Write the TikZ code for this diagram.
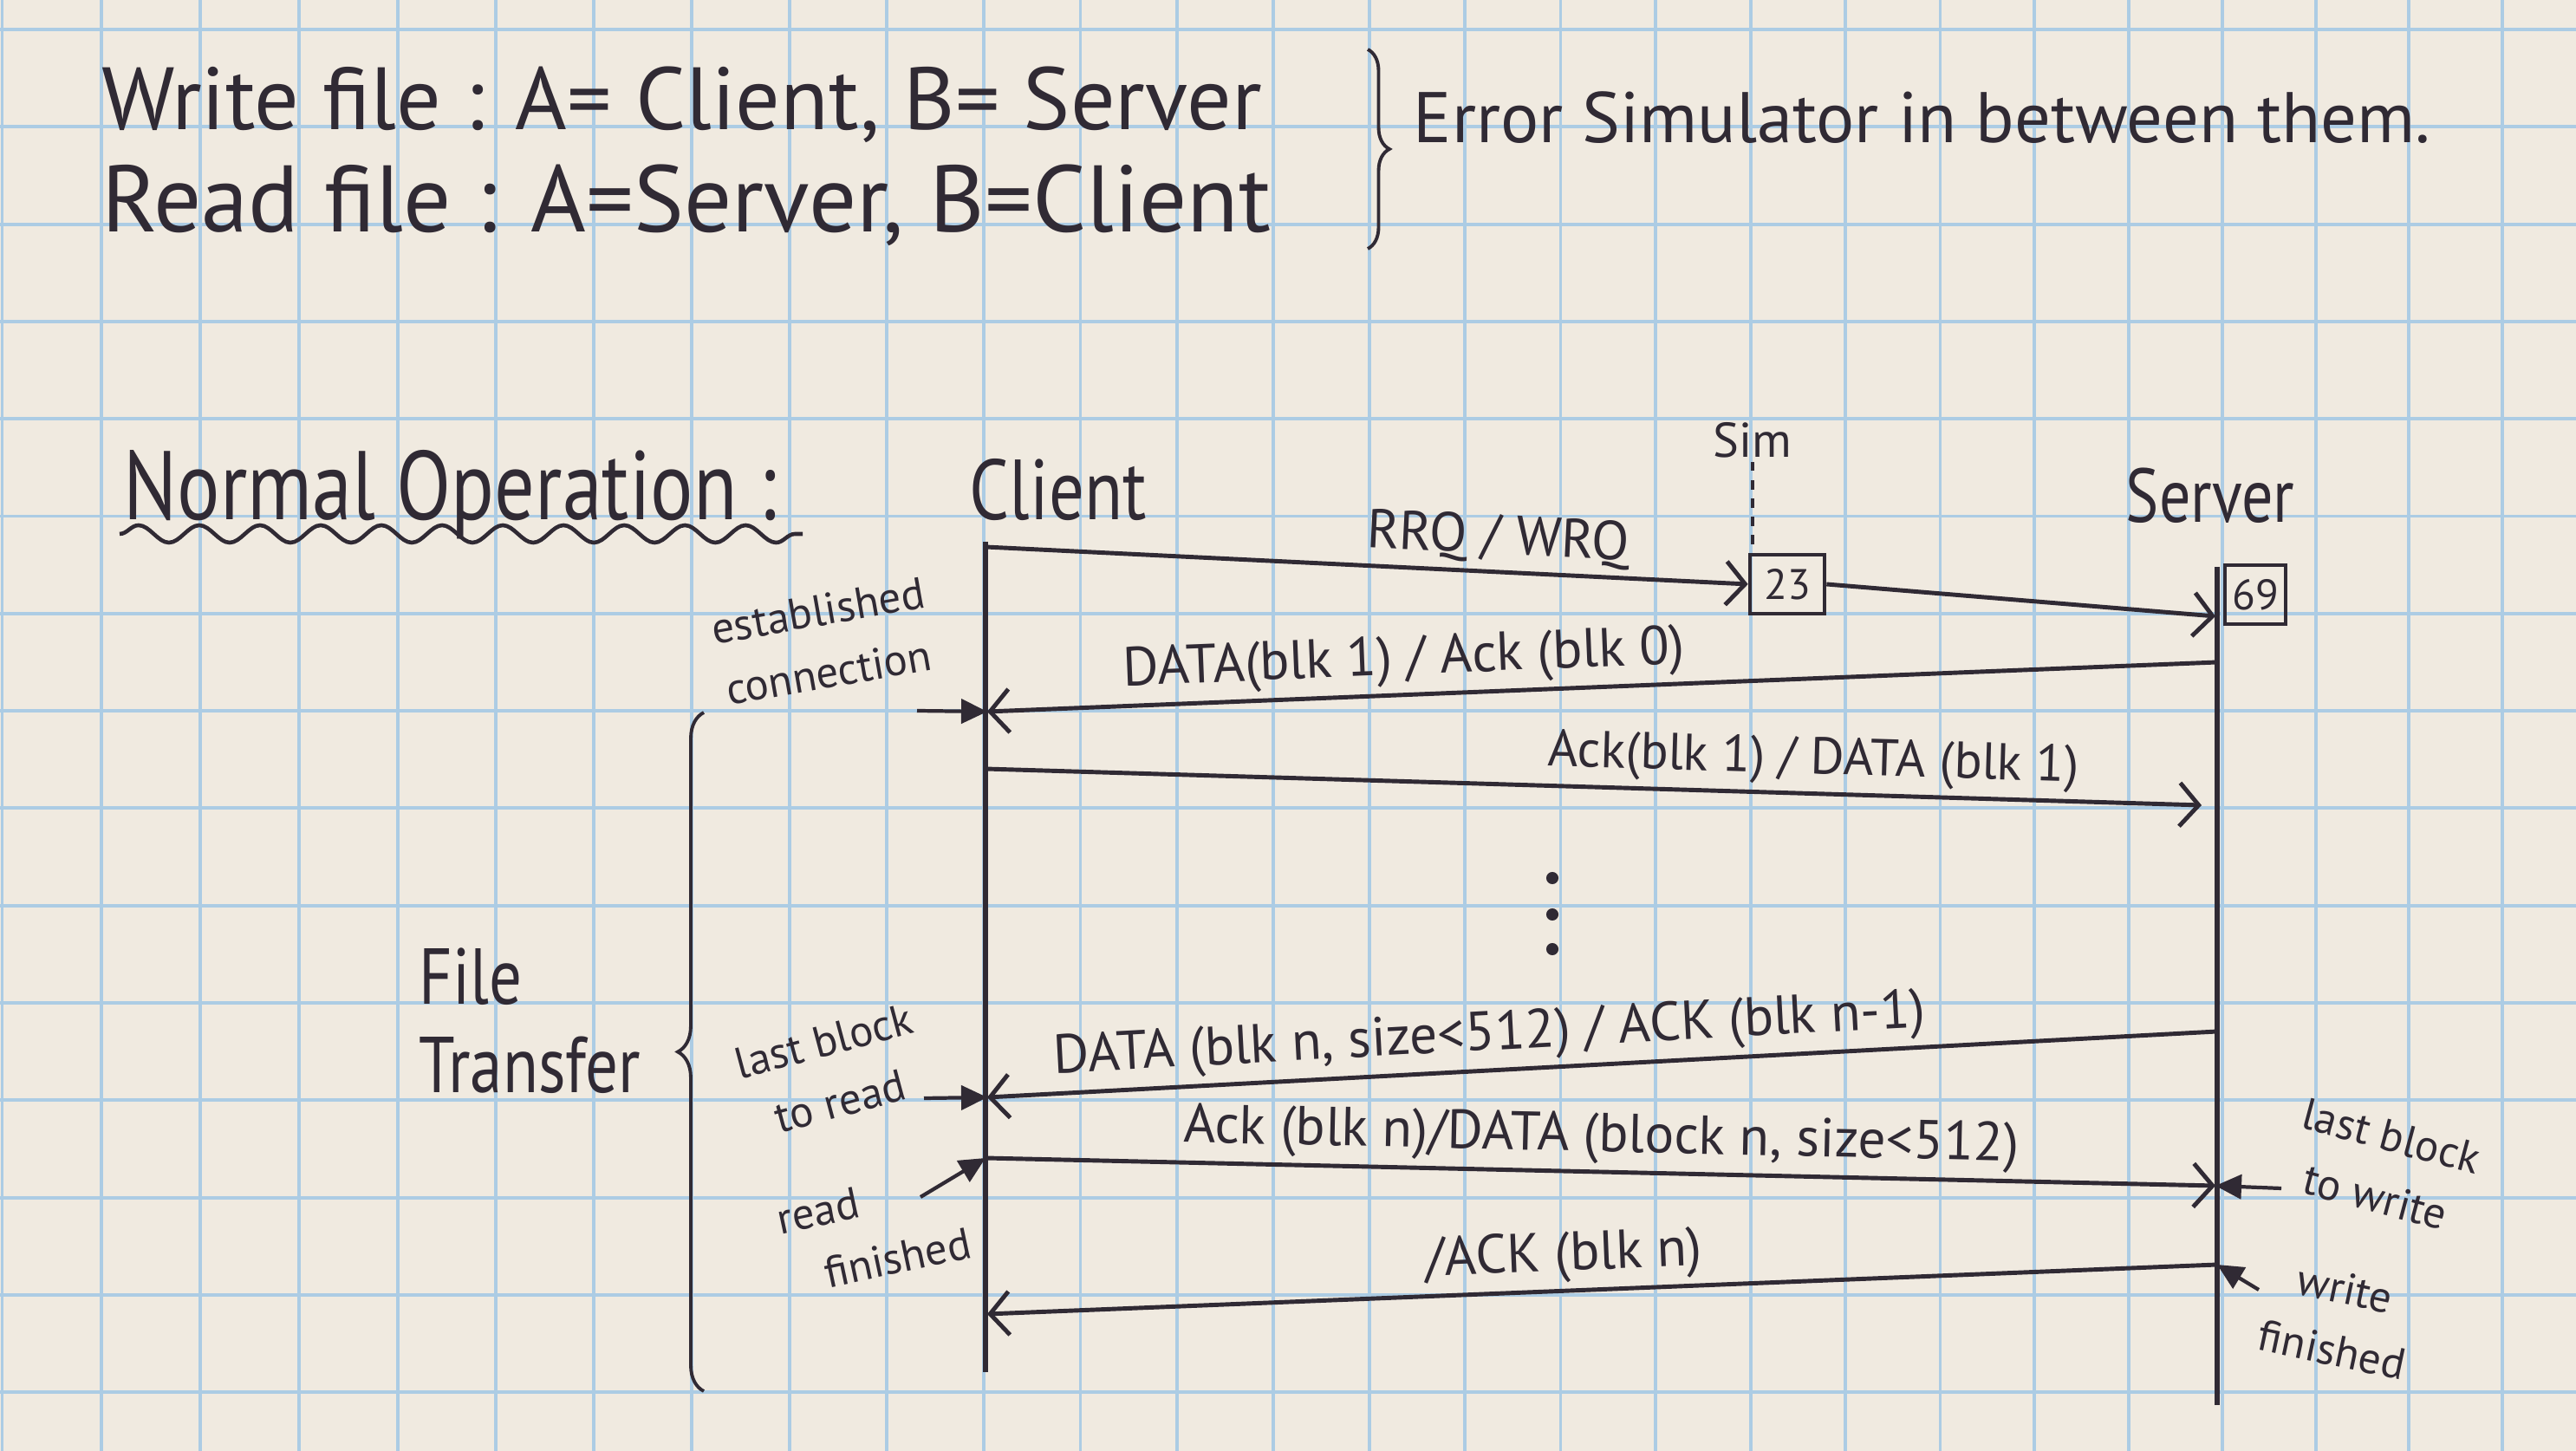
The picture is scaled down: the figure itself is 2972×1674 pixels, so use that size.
\documentclass[tikz,border=0pt]{standalone}
\usepackage{fontspec}
\setmainfont{PT Sans}
\newfontfamily\nrw[FakeStretch=0.82]{PT Sans}
\usetikzlibrary{arrows.meta,decorations.pathreplacing,decorations.pathmorphing}
\definecolor{paper}{RGB}{240,234,224}
\definecolor{gridblue}{RGB}{172,204,228}
\definecolor{ink}{RGB}{48,42,52}
\tikzset{
  grid line/.style={gridblue,line width=1.1pt},
  life/.style={ink,line width=1.5pt},
  msg/.style={ink,line width=1.4pt,-{Straight Barb[length=2.2mm,width=5mm]}},
  ptr/.style={ink,line width=1.2pt,-{Triangle[length=3mm,width=2.8mm]}},
  mlab/.style={font=\fontsize{18}{20}\selectfont,text=ink,inner sep=2pt,sloped,above},
  note/.style={font=\fontsize{14.5}{20.5}\selectfont,text=ink,align=center,inner sep=0pt},
  hdr/.style={font=\fontsize{29}{34}\selectfont,text=ink,inner sep=0pt,anchor=base west},
  port/.style={draw=ink,line width=1.3pt,minimum height=6.8mm,inner sep=0pt,text=ink,font=\fontsize{14}{16}\selectfont},
  brc/.style={ink,line width=1.1pt,decorate,decoration={brace,amplitude=#1}}
}
\begin{document}
\begin{tikzpicture}[x=0.01cm,y=-0.01cm]
\fill[paper] (0,0) rectangle (2972,1674);
\useasboundingbox (0,0) rectangle (2972,1674);
\foreach \k in {-1,...,25}{\pgfmathsetmacro{\gx}{117+114.4*\k-0.1445*\k*\k}\draw[grid line] (\gx,0) -- (\gx,1674);}
\foreach \k in {0,...,14}{\draw[grid line] (0,34+112.3*\k) -- (2972,34+112.3*\k);}
\node[hdr] (wf) at (117,150) {Write file : A= Client, B= Server};
\node[hdr,font=\fontsize{31}{34}\selectfont] (rf) at (117,268) {Read file : A=Server, B=Client};
\draw[brc=2.5mm] (1578,57) -- (1578,287);
\node[hdr,font=\fontsize{23.5}{28}\selectfont] (es) at (1630,165) {Error Simulator in between them.};
\node[hdr,font=\nrw\fontsize{32}{36}\selectfont] (no) at (142,600) {Normal Operation :};
\coordinate (u0) at (138,616);
\coordinate (u1) at (926,616);
\draw[ink,line width=1.3pt,decorate,decoration={snake,amplitude=1mm,segment length=7mm}] (u0) -- (u1);
\node[hdr,font=\nrw\fontsize{28}{34}\selectfont] (cl) at (1118,600) {Client};
\node[hdr,font=\nrw\fontsize{25}{28}\selectfont] (sv) at (2452,603) {Server};
\node[text=ink,inner sep=1pt,anchor=base,font=\fontsize{16}{18}\selectfont] (sm) at (2022,528) {Sim};
\node[port,minimum width=8.6mm] (p23) at (2062,674) {23};
\node[port,minimum width=7mm] (p69) at (2602,686) {69};
\draw[ink,line width=1.1pt,dashed] (sm.south) -- (sm.south |- p23.north);
\coordinate (ct) at (1137,625);
\coordinate (cb) at (1137,1583);
\coordinate (st) at (2558,654);
\coordinate (sb) at (2558,1621);
\draw[life] (ct) -- (cb);
\draw[life] (st) -- (sb);
\coordinate (c0) at (1137,631);
\coordinate (s0) at (2556,711);
\coordinate (s1) at (2558,764);
\coordinate (c1) at (1139,821);
\coordinate (c2) at (1137,887);
\coordinate (s2) at (2540,929);
\coordinate (s3) at (2558,1190);
\coordinate (c3) at (1139,1266);
\coordinate (c4) at (1137,1336);
\coordinate (s4) at (2556,1368);
\coordinate (s5) at (2558,1459);
\coordinate (c5) at (1139,1516);
\draw[msg] (c0) -- (p23.west) node[mlab,pos=.67]{RRQ / WRQ};
\draw[msg] (p23.east) -- (s0);
\draw[msg] (s1) -- (c1) node[mlab,pos=.66]{DATA(blk 1) / Ack (blk 0)};
\draw[msg] (c2) -- (s2) node[mlab,pos=.68,font=\fontsize{17}{20}\selectfont]{Ack(blk 1) / DATA (blk 1)};
\draw[msg] (s3) -- (c3) node[mlab,pos=.59]{DATA (blk n, size<512) / ACK (blk n-1)};
\draw[msg] (c4) -- (s4) node[mlab,pos=.5]{Ack (blk n)/DATA (block n, size<512)};
\draw[msg] (s5) -- (c5) node[mlab,pos=.53]{/ACK (blk n)};
\foreach \y in {1013,1055,1095} \fill[ink] (1791,\y) circle[radius=2pt];
\coordinate (e1) at (1058,820);
\coordinate (e3) at (1066,1267);
\coordinate (e5) at (1062,1381);
\coordinate (e4) at (2632,1371);
\coordinate (e6) at (2606,1488);
\draw[ptr] (e1) -- (c1);
\draw[ptr] (e3) -- (c3);
\draw[ptr] (e5) -- (c4);
\draw[ptr] (e4) -- (s4);
\draw[ptr] (e6) -- (s5);
\node[note,rotate=10] (ec) at (950,740) {established\\connection};
\node[note,rotate=15] (lr) at (960,1236) {last block\\to read};
\node[note,rotate=12,align=left] (rd) at (1008,1420) {read\\\hspace*{.8em}finished};
\node[note,rotate=-15] (lw) at (2750,1346) {last block\\to write};
\node[note,rotate=-12] (wd) at (2698,1522) {write\\finished};
\draw[brc=3mm] (812,1605) -- (812,822);
\node[hdr,font=\nrw\fontsize{26}{29}\selectfont,align=left,anchor=west] (ft) at (483,1178) {File\\Transfer};
\end{tikzpicture}
\end{document}
